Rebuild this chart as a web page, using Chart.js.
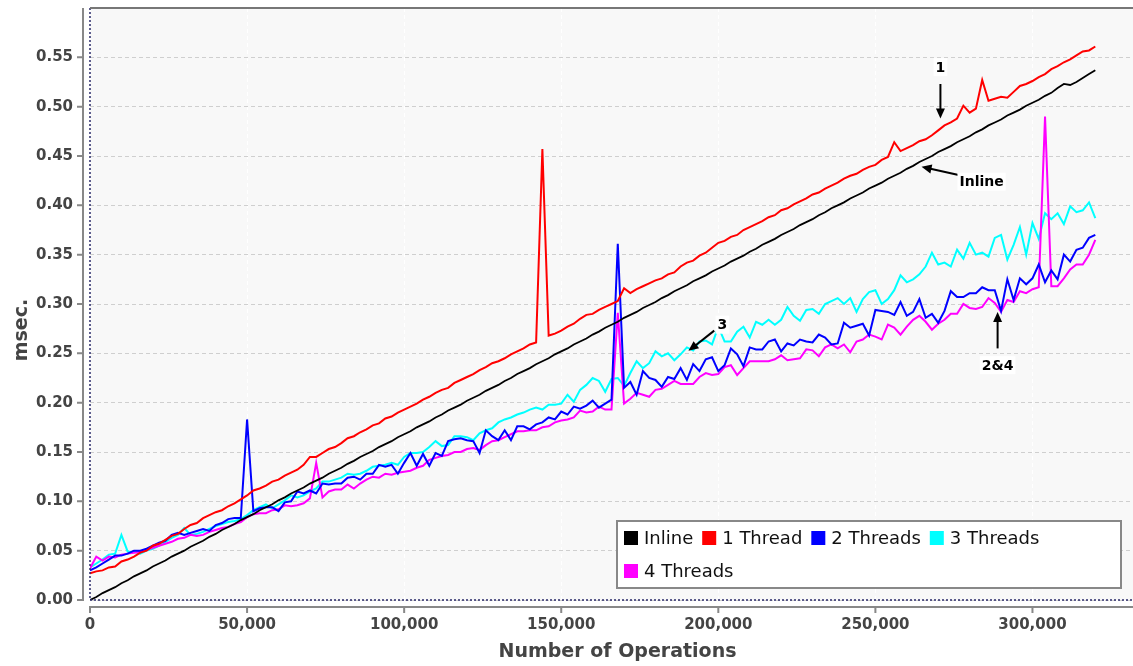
<!DOCTYPE html>
<html>
<head>
<meta charset="utf-8">
<script src="https://cdn.jsdelivr.net/npm/chart.js@4.4.1/dist/chart.umd.min.js"></script>
<style>
  html, body { margin: 0; padding: 0; background: #fff; }
  #wrap { width: 1133px; height: 666px; }
</style>
</head>
<body>
<div id="wrap"><canvas id="chart" width="1133" height="666"></canvas></div>
<script>
// operations, in thousands (x axis samples)
const OPS_K = [
  0,2,4,6,8,10,12,14,16,18,20,22,24,26,28,30,32,34,36,38,
  40,42,44,46,48,50,52,54,56,58,60,62,64,66,68,70,72,74,76,78,
  80,82,84,86,88,90,92,94,96,98,100,102,104,106,108,110,112,114,116,118,
  120,122,124,126,128,130,132,134,136,138,140,142,144,146,148,150,152,154,156,158,
  160,162,164,166,168,170,172,174,176,178,180,182,184,186,188,190,192,194,196,198,
  200,202,204,206,208,210,212,214,216,218,220,222,224,226,228,230,232,234,236,238,
  240,242,244,246,248,250,252,254,256,258,260,262,264,266,268,270,272,274,276,278,
  280,282,284,286,288,290,292,294,296,298,300,302,304,306,308,310,312,314,316,318,
  320
];

const X_TICKS = [0, 50000, 100000, 150000, 200000, 250000, 300000];
const Y_TICKS = [0, 0.05, 0.10, 0.15, 0.20, 0.25, 0.30, 0.35, 0.40, 0.45, 0.50, 0.55];

// msec. per series
const INLINE = [
  0.000,0.003,0.007,0.010,0.013,0.017,0.020,0.024,0.027,0.030,
  0.034,0.037,0.040,0.044,0.047,0.050,0.054,0.057,0.060,0.064,
  0.067,0.071,0.074,0.077,0.081,0.084,0.087,0.091,0.094,0.097,
  0.101,0.104,0.108,0.111,0.114,0.118,0.121,0.124,0.128,0.131,
  0.134,0.138,0.141,0.145,0.148,0.151,0.155,0.158,0.161,0.165,
  0.168,0.171,0.175,0.178,0.181,0.185,0.188,0.192,0.195,0.198,
  0.202,0.205,0.208,0.212,0.215,0.218,0.222,0.225,0.229,0.232,
  0.235,0.239,0.242,0.245,0.249,0.252,0.255,0.259,0.262,0.265,
  0.269,0.272,0.276,0.279,0.282,0.286,0.289,0.292,0.296,0.299,
  0.302,0.306,0.309,0.313,0.316,0.319,0.323,0.326,0.329,0.333,
  0.336,0.339,0.343,0.346,0.349,0.353,0.356,0.360,0.363,0.366,
  0.370,0.373,0.376,0.380,0.383,0.386,0.390,0.393,0.397,0.400,
  0.403,0.407,0.410,0.413,0.417,0.420,0.423,0.427,0.430,0.433,
  0.437,0.440,0.444,0.447,0.450,0.454,0.457,0.460,0.464,0.467,
  0.470,0.474,0.477,0.481,0.484,0.487,0.491,0.494,0.497,0.501,
  0.504,0.507,0.511,0.514,0.519,0.523,0.522,0.525,0.529,0.533,
  0.537
];
const THREAD1 = [
  0.027,0.029,0.030,0.033,0.034,0.039,0.041,0.044,0.048,0.050,
  0.055,0.057,0.061,0.065,0.067,0.072,0.076,0.078,0.083,0.086,
  0.089,0.091,0.095,0.098,0.102,0.106,0.111,0.113,0.116,0.120,
  0.122,0.126,0.129,0.132,0.137,0.145,0.145,0.149,0.153,0.155,
  0.159,0.164,0.166,0.170,0.173,0.177,0.179,0.184,0.186,0.190,
  0.193,0.196,0.199,0.203,0.206,0.210,0.213,0.215,0.220,0.223,
  0.226,0.229,0.233,0.236,0.240,0.242,0.245,0.249,0.252,0.255,
  0.259,0.261,0.457,0.268,0.270,0.273,0.277,0.280,0.285,0.289,
  0.290,0.294,0.297,0.300,0.303,0.316,0.311,0.315,0.318,0.321,
  0.324,0.326,0.330,0.332,0.338,0.342,0.344,0.349,0.352,0.357,
  0.362,0.364,0.368,0.370,0.375,0.378,0.381,0.384,0.388,0.390,
  0.395,0.397,0.401,0.404,0.407,0.411,0.413,0.417,0.420,0.423,
  0.427,0.430,0.432,0.436,0.439,0.441,0.446,0.449,0.464,0.455,
  0.458,0.461,0.465,0.467,0.471,0.476,0.481,0.484,0.488,0.501,
  0.494,0.498,0.527,0.506,0.508,0.510,0.509,0.515,0.521,0.523,
  0.526,0.530,0.533,0.538,0.541,0.545,0.548,0.552,0.556,0.557,
  0.561
];
const THREAD2 = [
  0.030,0.033,0.037,0.041,0.045,0.045,0.047,0.050,0.050,0.052,
  0.055,0.058,0.060,0.066,0.068,0.066,0.068,0.070,0.072,0.070,
  0.076,0.078,0.082,0.083,0.083,0.183,0.090,0.093,0.094,0.094,
  0.090,0.099,0.100,0.110,0.108,0.111,0.108,0.118,0.117,0.118,
  0.118,0.124,0.125,0.122,0.128,0.128,0.137,0.135,0.137,0.128,
  0.139,0.149,0.136,0.148,0.136,0.149,0.146,0.161,0.163,0.164,
  0.162,0.161,0.149,0.172,0.166,0.162,0.172,0.162,0.176,0.176,
  0.173,0.178,0.180,0.185,0.183,0.191,0.188,0.196,0.194,0.197,
  0.202,0.195,0.199,0.203,0.361,0.215,0.221,0.208,0.232,0.225,
  0.223,0.216,0.226,0.224,0.235,0.223,0.239,0.232,0.244,0.246,
  0.232,0.238,0.255,0.249,0.237,0.256,0.254,0.254,0.262,0.264,
  0.252,0.260,0.258,0.264,0.262,0.261,0.269,0.266,0.259,0.260,
  0.281,0.276,0.278,0.280,0.268,0.294,0.293,0.292,0.289,0.302,
  0.288,0.292,0.305,0.286,0.290,0.281,0.293,0.313,0.307,0.307,
  0.311,0.311,0.317,0.314,0.314,0.293,0.325,0.304,0.326,0.320,
  0.326,0.340,0.322,0.334,0.325,0.350,0.343,0.355,0.357,0.367,
  0.370
];
const THREAD3 = [
  0.033,0.037,0.041,0.046,0.047,0.066,0.049,0.049,0.047,0.050,
  0.052,0.055,0.059,0.063,0.066,0.073,0.066,0.067,0.069,0.072,
  0.075,0.077,0.079,0.080,0.082,0.086,0.091,0.094,0.097,0.093,
  0.097,0.101,0.106,0.104,0.106,0.110,0.113,0.120,0.120,0.122,
  0.124,0.128,0.127,0.128,0.131,0.135,0.136,0.137,0.139,0.137,
  0.145,0.149,0.149,0.150,0.155,0.161,0.156,0.157,0.166,0.166,
  0.165,0.162,0.169,0.172,0.174,0.180,0.183,0.185,0.188,0.190,
  0.193,0.195,0.193,0.198,0.198,0.199,0.208,0.201,0.213,0.218,
  0.225,0.222,0.211,0.224,0.225,0.217,0.230,0.242,0.235,0.240,
  0.252,0.247,0.250,0.243,0.249,0.256,0.253,0.262,0.263,0.259,
  0.277,0.262,0.262,0.272,0.277,0.266,0.282,0.279,0.284,0.279,
  0.284,0.297,0.288,0.283,0.294,0.295,0.290,0.300,0.303,0.306,
  0.300,0.306,0.292,0.305,0.312,0.314,0.300,0.305,0.314,0.329,
  0.322,0.325,0.330,0.338,0.352,0.340,0.342,0.338,0.355,0.346,
  0.362,0.350,0.352,0.348,0.367,0.370,0.345,0.360,0.378,0.350,
  0.382,0.366,0.392,0.386,0.392,0.381,0.399,0.393,0.395,0.403,
  0.387
];
const THREAD4 = [
  0.032,0.044,0.040,0.044,0.043,0.046,0.047,0.048,0.049,0.051,
  0.053,0.055,0.057,0.059,0.062,0.063,0.066,0.065,0.066,0.069,
  0.071,0.073,0.074,0.077,0.079,0.084,0.087,0.088,0.088,0.091,
  0.092,0.096,0.095,0.096,0.098,0.103,0.139,0.104,0.110,0.112,
  0.112,0.117,0.113,0.118,0.122,0.125,0.124,0.128,0.127,0.129,
  0.130,0.131,0.134,0.136,0.142,0.144,0.146,0.147,0.150,0.150,
  0.153,0.154,0.152,0.157,0.161,0.162,0.165,0.168,0.171,0.171,
  0.172,0.172,0.175,0.176,0.180,0.182,0.183,0.185,0.192,0.190,
  0.191,0.196,0.193,0.193,0.291,0.199,0.204,0.210,0.208,0.206,
  0.213,0.214,0.218,0.222,0.219,0.219,0.219,0.226,0.230,0.228,
  0.229,0.236,0.238,0.228,0.235,0.242,0.242,0.242,0.242,0.244,
  0.248,0.243,0.244,0.245,0.254,0.253,0.247,0.256,0.259,0.255,
  0.259,0.251,0.262,0.264,0.269,0.267,0.264,0.279,0.276,0.269,
  0.277,0.284,0.288,0.282,0.274,0.280,0.284,0.290,0.290,0.300,
  0.296,0.295,0.297,0.306,0.301,0.292,0.304,0.302,0.313,0.311,
  0.315,0.317,0.490,0.318,0.318,0.326,0.335,0.340,0.340,0.350,
  0.365
];

const LABELS = ['Inline', '1 Thread', '2 Threads', '3 Threads', '4 Threads'];
const COLORS = ['#000000', '#ff0000', '#0000ff', '#00ffff', '#ff00ff'];
// draw order: smaller = on top
const ORDER = [1, 2, 3, 5, 4];

// text callouts, in data units (ops, msec.)
const NOTES = [
  { text: '1',      at: [270700, 0.540], from: [270700, 0.523], to: [270700, 0.488] },
  { text: 'Inline', at: [283800, 0.424], from: [279000, 0.429], to: [264700, 0.439] },
  { text: '3',      at: [201300, 0.279], from: [198700, 0.273], to: [190500, 0.2525] },
  { text: '2&4',    at: [288900, 0.238], from: [288900, 0.255], to: [288900, 0.292] }
];

const FONT = '"DejaVu Sans", "Liberation Sans", sans-serif';

function series(i, vals) {
  return {
    label: LABELS[i],
    data: OPS_K.map((k, j) => ({ x: k * 1000, y: vals[j] })),
    borderColor: COLORS[i],
    backgroundColor: COLORS[i],
    borderWidth: i === 0 ? 1.8 : 2,
    pointRadius: 0,
    tension: 0,
    order: ORDER[i]
  };
}

const frame = {
  id: 'frame',
  beforeDraw(chart) {
    const { ctx, chartArea: a } = chart;
    ctx.save();
    ctx.fillStyle = '#f8f8f8';
    ctx.fillRect(a.left, a.top, a.right - a.left, a.bottom - a.top);
    ctx.restore();
  },
  afterDraw(chart) {
    const { ctx, chartArea: a, scales: { x, y } } = chart;
    ctx.save();
    // plot frame
    ctx.strokeStyle = '#2a2a6a';
    ctx.lineWidth = 1.5;
    ctx.setLineDash([2, 2]);
    ctx.beginPath();
    ctx.moveTo(a.left, a.top); ctx.lineTo(a.left, a.bottom); ctx.lineTo(a.right, a.bottom);
    ctx.stroke();
    ctx.setLineDash([]);
    ctx.strokeStyle = '#777';
    ctx.lineWidth = 2;
    ctx.beginPath(); ctx.moveTo(a.left, a.top); ctx.lineTo(a.right, a.top); ctx.stroke();
    // offset axis lines + tick marks
    ctx.strokeStyle = '#888';
    ctx.beginPath();
    ctx.moveTo(a.left - 7, a.top); ctx.lineTo(a.left - 7, a.bottom + 1);
    ctx.moveTo(a.left - 1, a.bottom + 7); ctx.lineTo(a.right, a.bottom + 7);
    y.ticks.forEach((t, i) => {
      const py = y.getPixelForTick(i);
      ctx.moveTo(a.left - 13, py); ctx.lineTo(a.left - 7, py);
    });
    x.ticks.forEach((t, i) => {
      const px = x.getPixelForTick(i);
      ctx.moveTo(px, a.bottom + 7); ctx.lineTo(px, a.bottom + 13);
    });
    ctx.stroke();
    // axis titles
    ctx.fillStyle = '#444';
    ctx.font = 'bold 19px ' + FONT;
    ctx.textAlign = 'center';
    ctx.textBaseline = 'middle';
    ctx.fillText('Number of Operations', (a.left + a.right) / 2 + 6, chart.height - 14);
    ctx.translate(22, (a.top + a.bottom) / 2 + 26);
    ctx.rotate(-Math.PI / 2);
    ctx.fillText('msec.', 0, 0);
    ctx.restore();
  }
};

function arrow(ctx, x1, y1, x2, y2) {
  const ang = Math.atan2(y2 - y1, x2 - x1);
  const hl = 10, hw = 4.5;
  ctx.beginPath();
  ctx.moveTo(x1, y1);
  ctx.lineTo(x2 - Math.cos(ang) * hl * 0.8, y2 - Math.sin(ang) * hl * 0.8);
  ctx.stroke();
  ctx.beginPath();
  ctx.moveTo(x2, y2);
  ctx.lineTo(x2 - Math.cos(ang) * hl - Math.sin(ang) * hw, y2 - Math.sin(ang) * hl + Math.cos(ang) * hw);
  ctx.lineTo(x2 - Math.cos(ang) * hl + Math.sin(ang) * hw, y2 - Math.sin(ang) * hl - Math.cos(ang) * hw);
  ctx.closePath();
  ctx.fill();
}

const notes = {
  id: 'notes',
  afterDatasetsDraw(chart) {
    const { ctx, scales: { x, y } } = chart;
    ctx.save();
    ctx.font = 'bold 14px ' + FONT;
    ctx.textAlign = 'center';
    ctx.textBaseline = 'middle';
    ctx.strokeStyle = '#000';
    ctx.fillStyle = '#000';
    ctx.lineWidth = 2;
    NOTES.forEach(n => {
      arrow(ctx, x.getPixelForValue(n.from[0]), y.getPixelForValue(n.from[1]),
                 x.getPixelForValue(n.to[0]), y.getPixelForValue(n.to[1]));
      const tx = x.getPixelForValue(n.at[0]), ty = y.getPixelForValue(n.at[1]);
      const w = ctx.measureText(n.text).width;
      ctx.fillStyle = '#fff';
      ctx.fillRect(tx - w / 2 - 2, ty - 9, w + 4, 18);
      ctx.fillStyle = '#000';
      ctx.fillText(n.text, tx, ty + 1);
    });
    ctx.restore();
  }
};

const legendBox = {
  id: 'legendBox',
  afterDraw(chart) {
    const { ctx, chartArea: a } = chart;
    const w = 504, h = 67;
    const bx = a.right - 12 - w, by = a.bottom - 12 - h;
    ctx.save();
    ctx.fillStyle = '#fff';
    ctx.fillRect(bx, by, w, h);
    ctx.strokeStyle = '#888';
    ctx.lineWidth = 2;
    ctx.strokeRect(bx, by, w, h);
    ctx.font = '18px ' + FONT;
    ctx.textBaseline = 'middle';
    ctx.textAlign = 'left';
    let cx = bx + 7, cy = by + 17;
    chart.data.datasets.forEach(ds => {
      const tw = ctx.measureText(ds.label).width;
      if (cx + 20 + tw > bx + w - 5) { cx = bx + 7; cy += 33; }
      ctx.fillStyle = ds.borderColor;
      ctx.fillRect(cx, cy - 7, 14, 14);
      ctx.fillStyle = '#111';
      ctx.fillText(ds.label, cx + 20, cy + 1);
      cx += 20 + tw + 9;
    });
    ctx.restore();
  }
};

const tickFont = { family: FONT, size: 15, weight: 'bold' };

new Chart(document.getElementById('chart'), {
  type: 'line',
  data: {
    datasets: [
      series(0, INLINE),
      series(1, THREAD1),
      series(2, THREAD2),
      series(3, THREAD3),
      series(4, THREAD4)
    ]
  },
  options: {
    responsive: false,
    animation: false,
    devicePixelRatio: 1,
    layout: { padding: { top: 8, left: 0, right: 0, bottom: 0 } },
    plugins: { legend: { display: false }, tooltip: { enabled: false } },
    scales: {
      x: {
        type: 'linear',
        min: 0,
        max: 332000,
        afterBuildTicks: s => { s.ticks = X_TICKS.map(v => ({ value: v })); },
        afterFit: s => { s.height = 66; s.paddingLeft = 0; s.paddingRight = 0; },
        ticks: {
          padding: 16, color: '#444', font: tickFont,
          maxRotation: 0, minRotation: 0, autoSkip: false,
          callback: v => v.toLocaleString('en-US')
        },
        grid: { drawTicks: false, color: 'rgba(255,255,255,0.9)', lineWidth: 1 },
        border: { display: false, dash: [4, 3] }
      },
      y: {
        type: 'linear',
        min: 0,
        max: 0.6,
        afterBuildTicks: s => { s.ticks = Y_TICKS.map(v => ({ value: v })); },
        afterFit: s => { s.width = 90; s.paddingTop = 0; s.paddingBottom = 0; },
        ticks: {
          padding: 17, color: '#444', font: tickFont, autoSkip: false,
          callback: v => v.toFixed(2)
        },
        grid: { drawTicks: false, color: '#cfcfcf', lineWidth: 1 },
        border: { display: false, dash: [4, 3] }
      }
    }
  },
  plugins: [frame, notes, legendBox]
});
</script>
</body>
</html>
